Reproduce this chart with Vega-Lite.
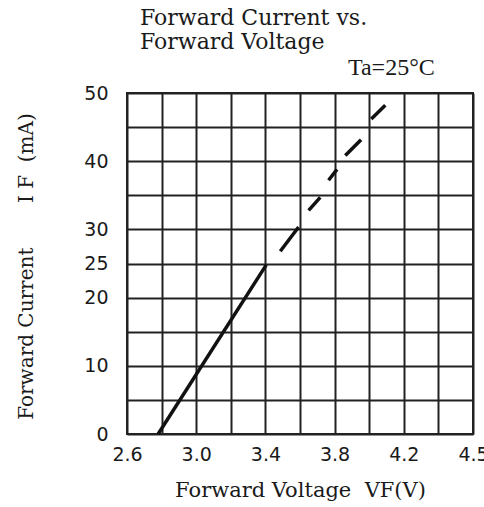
{
  "$schema": "https://vega.github.io/schema/vega-lite/v6.json",
  "width": 346,
  "height": 341,
  "autosize": {"type": "none"},
  "padding": {"left": 127, "top": 93, "right": 11, "bottom": 73},
  "background": "white",
  "title": {
    "text": ["Forward Current vs.", "Forward Voltage"],
    "anchor": "start",
    "frame": "group",
    "align": "left",
    "dx": 13,
    "font": "DejaVu Serif",
    "fontSize": 22,
    "fontWeight": "normal",
    "lineHeight": 24,
    "color": "#1a1a1a",
    "offset": 2
  },
  "config": {
    "view": {"stroke": "#222", "strokeWidth": 2},
    "axis": {
      "grid": true,
      "gridColor": "#222",
      "gridWidth": 2,
      "gridOpacity": 1,
      "ticks": false,
      "domain": false,
      "labelFont": "DejaVu Sans",
      "labelFontSize": 19,
      "labelColor": "#1a1a1a",
      "labelOverlap": false,
      "labelBound": false,
      "labelFlush": false,
      "titleFont": "DejaVu Serif",
      "titleFontWeight": "normal",
      "titleColor": "#1a1a1a"
    }
  },
  "encoding": {
    "x": {
      "field": "v",
      "type": "quantitative",
      "scale": {"domain": [2.6, 4.6], "nice": false, "zero": false},
      "axis": {
        "values": [2.6, 2.8, 3.0, 3.2, 3.4, 3.6, 3.8, 4.0, 4.2, 4.4, 4.6],
        "labelExpr": "datum.value > 4.55 ? '4.5' : (indexof([26, 30, 34, 38, 42], round(datum.value * 10)) >= 0 ? format(datum.value, '.1f') : '')",
        "labelPadding": 11,
        "title": "Forward Voltage\u00a0\u00a0VF(V)",
        "titleFontSize": 21,
        "titlePadding": 15
      }
    },
    "y": {
      "field": "i",
      "type": "quantitative",
      "scale": {"domain": [0, 50], "nice": false, "zero": true},
      "axis": {
        "values": [0, 5, 10, 15, 20, 25, 30, 35, 40, 45, 50],
        "labelExpr": "indexof([0, 10, 20, 25, 30, 40, 50], datum.value) >= 0 ? datum.label : ''",
        "labelPadding": 19,
        "title": "Forward Current\u00a0\u00a0\u00a0\u00a0\u00a0\u00a0\u00a0I\u00a0F\u00a0\u00a0(mA)",
        "titleFontSize": 20,
        "titlePadding": 47,
        "titleY": 173
      }
    }
  },
  "layer": [
    {
      "data": {
        "values": [
          {"seg": "solid", "v": 2.78, "i": 0},
          {"seg": "solid", "v": 3.405, "i": 24.8},
          {"seg": "d1", "v": 3.486, "i": 26.8},
          {"seg": "d1", "v": 3.592, "i": 30.35},
          {"seg": "d2", "v": 3.65, "i": 32.8},
          {"seg": "d2", "v": 3.717, "i": 34.7},
          {"seg": "d3", "v": 3.765, "i": 37.2},
          {"seg": "d3", "v": 3.814, "i": 38.8},
          {"seg": "d4", "v": 3.862, "i": 40.85},
          {"seg": "d4", "v": 3.953, "i": 43.15},
          {"seg": "d5", "v": 4.012, "i": 46.2},
          {"seg": "d5", "v": 4.093, "i": 48.2}
        ]
      },
      "mark": {"type": "line", "color": "#111", "strokeWidth": 3.5, "strokeCap": "butt"},
      "encoding": {
        "detail": {"field": "seg"}
      }
    },
    {
      "data": {"values": [{"v": 4.128, "i": 52.64, "t": "Ta=25°C"}]},
      "mark": {
        "type": "text",
        "font": "Liberation Serif",
        "fontSize": 24,
        "align": "center",
        "baseline": "alphabetic",
        "color": "#1a1a1a",
        "clip": false
      },
      "encoding": {
        "text": {"field": "t"}
      }
    }
  ]
}
